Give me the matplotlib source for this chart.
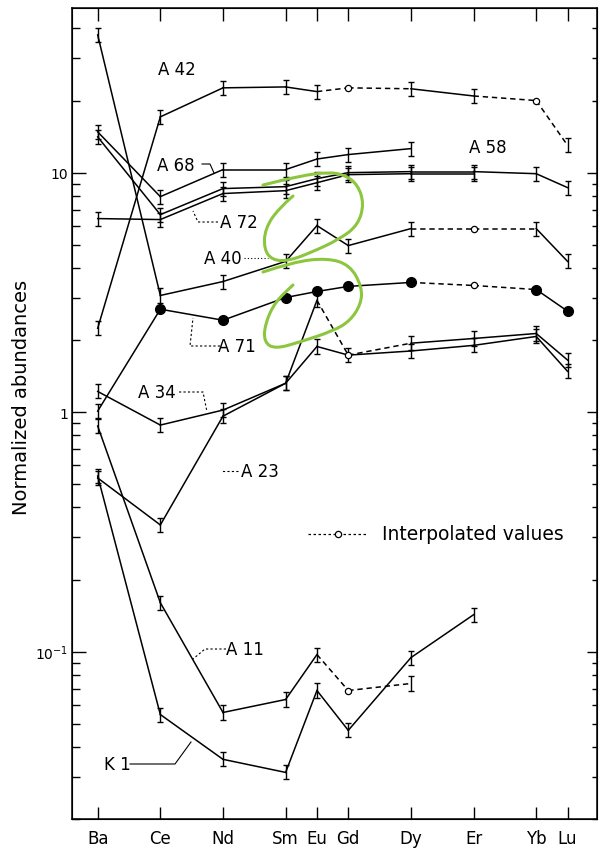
import numpy as np
import matplotlib
matplotlib.use("Agg")
import matplotlib.pyplot as plt
import matplotlib.transforms as mtransforms
from matplotlib.path import Path
from matplotlib.patches import PathPatch
from matplotlib.ticker import FixedLocator, LogLocator, NullFormatter

# ---------------------------------------------------------------------------
# Data (normalized abundances, log scale)
# order: Ba, Ce, Nd, Sm, Eu, Gd, Dy, Er, Yb, Lu  (nan = not measured)
# ---------------------------------------------------------------------------
nan = np.nan
ELEMENTS = ["Ba", "Ce", "Nd", "Sm", "Eu", "Gd", "Dy", "Er", "Yb", "Lu"]
ATOMIC_NO = [56, 58, 60, 62, 63, 64, 66, 68, 70, 71]

A42 = [2.24, 17.1, 22.6, 22.8, 21.8, 22.6, 22.4, 20.9, 20.0, 13.0]
A68 = [14.8, 7.94, 10.3, 10.3, 11.4, 11.9, 12.6, nan, nan, nan]
A58 = [14.1, 6.68, 8.58, 8.74, 9.44, 10.0, 10.1, 10.1, 9.9, 8.66]
A72 = [6.43, 6.37, 8.18, 8.41, 9.08, 9.81, 9.9, 9.9, nan, nan]
A40 = [37.6, 3.07, 3.51, 4.26, 6.01, 4.96, 5.84, 5.84, 5.84, 4.26]
A71 = [1.01, 2.69, 2.42, 3.01, 3.19, 3.35, 3.48, 3.38, 3.25, 2.64]
A34 = [1.22, 0.883, 1.02, 1.32, 1.88, 1.73, 1.80, 1.90, 2.07, 1.48]
A23 = [0.531, 0.338, 0.962, 1.32, 2.93, 1.73, 1.94, 2.03, 2.13, 1.65]
A11 = [0.875, 0.160, 0.0557, 0.0631, 0.0972, 0.0688, 0.0736, nan, nan, nan]
K1 = [0.541, 0.0546, 0.0355, 0.0313, 0.0688, 0.0469, 0.0944, 0.1426, nan, nan]

# indices of interpolated (not measured) values per sample
A42_INTERP = [5, 8]
A40_INTERP = [7]
A71_INTERP = [7]
A23_INTERP = [5]
A11_INTERP = [5]

ERR = 1.07  # multiplicative half-size of the error bars

fig = plt.figure(figsize=(5.99, 8.53), dpi=100)
ax = fig.add_axes([72 / 599, 33 / 853, 525 / 599, 811 / 853])
# pixel coordinates of the page (origin top-left) for labels and leaders
px = mtransforms.Affine2D().scale(1 / 599, -1 / 853).translate(0, 1) + fig.transFigure

x = np.array(ATOMIC_NO, dtype=float)


def draw_series(vals, interp=(), dots=False):
    y = np.array(vals, dtype=float)
    idx = np.where(~np.isnan(y))[0]
    for a, b in zip(idx[:-1], idx[1:]):
        ls = (0, (3.5, 2.5)) if (a in interp or b in interp) else "-"
        ax.plot(x[[a, b]], y[[a, b]], color="k", lw=1.1, ls=ls, zorder=2)
    meas = np.array([i for i in idx if i not in interp])
    bars = meas[:1] if dots else meas
    ax.errorbar(x[bars], y[bars], yerr=[y[bars] * (1 - 1 / ERR), y[bars] * (ERR - 1)],
                fmt="none", ecolor="k", elinewidth=1.0, capsize=2.3, capthick=1.0, zorder=3)
    if dots:
        ax.plot(x[meas[1:]], y[meas[1:]], "o", color="k", ms=7, zorder=4)
    if len(interp):
        ax.plot(x[list(interp)], y[list(interp)], "o", mfc="white", mec="k",
                ms=4.5, mew=0.9, zorder=4)


draw_series(A42, A42_INTERP)
draw_series(A68)
draw_series(A58)
draw_series(A72)
draw_series(A40, A40_INTERP)
draw_series(A71, A71_INTERP, dots=True)
draw_series(A34)
draw_series(A23, A23_INTERP)
draw_series(A11, A11_INTERP)
draw_series(K1)

# ── axes ────────────────────────────────────────────────────────────────────
ax.set_yscale("log")
ax.set_xlim(55.18, 71.94)
ax.set_ylim(0.02, 48.7)
ax.xaxis.set_major_locator(FixedLocator(ATOMIC_NO))
ax.set_xticklabels(ELEMENTS, fontsize=12)
ax.yaxis.set_major_locator(FixedLocator([0.1, 1, 10]))
ax.set_yticklabels(["$10^{-1}$", "1", "10"], fontsize=10)
ax.yaxis.set_minor_locator(LogLocator(base=10, subs=np.arange(2, 10)))
ax.yaxis.set_minor_formatter(NullFormatter())
ax.tick_params(which="both", direction="in", top=True, right=False, width=1.0)
ax.tick_params(axis="x", which="major", length=9, pad=7)
ax.tick_params(axis="y", which="major", length=10, pad=3)
ax.tick_params(axis="y", which="minor", length=6)
for s in ax.spines.values():
    s.set_linewidth(1.1)

# short ticks on the right-hand side
ax_r = ax.twinx()
ax_r.set_yscale("log")
ax_r.set_ylim(ax.get_ylim())
ax_r.yaxis.set_major_locator(FixedLocator([0.1, 1, 10]))
ax_r.yaxis.set_minor_locator(LogLocator(base=10, subs=np.arange(2, 10)))
ax_r.yaxis.set_major_formatter(NullFormatter())
ax_r.yaxis.set_minor_formatter(NullFormatter())
ax_r.tick_params(which="major", direction="in", length=7, width=1.0)
ax_r.tick_params(which="minor", direction="in", length=3.5, width=1.0)

fig.text(22, 397, "Normalized abundances", transform=px, rotation=90,
         ha="center", va="center", fontsize=14)

# ── sample labels and leaders ───────────────────────────────────────────────
labels = [("A 42", 177, 70), ("A 68", 176, 166), ("A 58", 488, 148),
          ("A 72", 239, 223), ("A 40", 223, 259), ("A 71", 237, 347),
          ("A 34", 157, 393), ("A 23", 260, 472), ("A 11", 245, 650),
          ("K 1", 117, 765)]
for txt, lx, ly in labels:
    fig.text(lx, ly, txt, transform=px, ha="center", va="center", fontsize=12)

leaders = [
    ([202, 210, 214], [165, 165, 174], "-"),
    ([218, 198, 193], [223, 223, 212], (0, (2, 2))),
    ([244, 268], [259, 259], (0, (1, 2))),
    ([220, 190, 193], [347, 347, 319], (0, (2, 2))),
    ([179, 203, 207], [393, 393, 413], (0, (2, 2))),
    ([238, 222], [472, 472], (0, (2, 2))),
    ([226, 205, 193], [650, 650, 660], (0, (2, 2))),
    ([130, 175, 191], [765, 765, 743], "-"),
]
for lxs, lys, ls in leaders:
    fig.add_artist(plt.Line2D(lxs, lys, transform=px, color="k", lw=0.8, ls=ls))

# legend for interpolated values
fig.add_artist(plt.Line2D([308, 368], [535, 535], transform=px, color="k", lw=0.9,
                          ls=(0, (2, 2))))
fig.add_artist(plt.Line2D([338], [535], transform=px, marker="o", mfc="white",
                          mec="k", ms=4.5, mew=0.9))
fig.text(382, 535, "Interpolated values", transform=px, ha="left", va="center",
         fontsize=13.5)

# ── green hand-drawn loops ──────────────────────────────────────────────────
loops = [
    [(293, 197), (278, 210), (265, 230), (264, 250), (272, 261), (288, 262),
     (310, 254), (340, 240), (358, 226), (364, 205), (358, 186), (345, 176),
     (328, 173), (300, 177), (263, 186)],
    [(263, 273), (293, 263), (327, 259), (350, 266), (362, 288), (361, 305),
     (350, 322), (333, 332), (300, 343), (275, 350), (264, 343), (265, 325),
     (275, 303), (293, 286)],
]
for pts in loops:
    pts = np.array(pts, dtype=float)
    verts = [pts[0]]
    codes = [Path.MOVETO]
    for i in range(1, len(pts) - 1):
        verts += [pts[i], (pts[i] + pts[i + 1]) / 2]
        codes += [Path.CURVE3, Path.CURVE3]
    verts.append(pts[-1])
    codes.append(Path.LINETO)
    fig.add_artist(PathPatch(Path(verts, codes), transform=px, fill=False,
                             edgecolor="#8cc63f", lw=2.2, capstyle="round"))

fig.savefig("out.png", dpi=100)
